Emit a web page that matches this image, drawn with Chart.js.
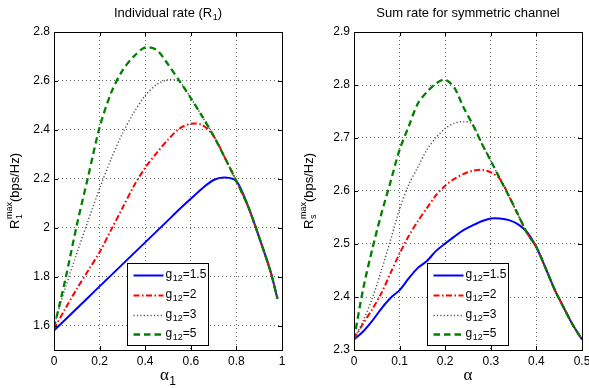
<!DOCTYPE html>
<html>
<head>
<meta charset="utf-8">
<script src="https://cdn.jsdelivr.net/npm/chart.js@4.4.0/dist/chart.umd.min.js"></script>
<style>
    html, body { margin: 0; padding: 0; background: #fff; overflow: hidden; }
    #wrap { position: relative; width: 589px; height: 388px; overflow: hidden; }
    canvas { position: absolute; top: 0; }
</style>
</head>
<body>
<div id="wrap">
    <canvas id="chartLeft" width="295" height="388" style="left:0"></canvas>
    <canvas id="chartRight" width="300" height="388" style="left:295px"></canvas>
</div>
<script>
// Individual rate (R1) vs alpha1
var xLeft = [0, 0.05, 0.1, 0.15, 0.2, 0.25, 0.3, 0.35, 0.4, 0.45, 0.5, 0.55, 0.6, 0.65, 0.7, 0.75, 0.8, 0.85, 0.9, 0.95, 0.98];
var g15Left = [1.58, 1.625, 1.67, 1.715, 1.76, 1.805, 1.85, 1.895, 1.94, 1.985, 2.03, 2.075, 2.118, 2.16, 2.195, 2.205, 2.19, 2.09, 1.96, 1.82, 1.71];
var g2Left = [1.585, 1.67, 1.75, 1.825, 1.90, 1.99, 2.08, 2.17, 2.245, 2.305, 2.36, 2.405, 2.425, 2.42, 2.375, 2.285, 2.19, 2.09, 1.96, 1.82, 1.71];
var g3Left = [1.60, 1.755, 1.895, 2.03, 2.16, 2.28, 2.385, 2.47, 2.54, 2.585, 2.605, 2.597, 2.53, 2.455, 2.375, 2.285, 2.19, 2.09, 1.96, 1.82, 1.71];
var g5Left = [1.59, 1.79, 2.01, 2.21, 2.41, 2.55, 2.642, 2.70, 2.737, 2.727, 2.668, 2.60, 2.53, 2.455, 2.375, 2.285, 2.19, 2.09, 1.96, 1.82, 1.71];

// Sum rate vs alpha
var xRight = [0, 0.02, 0.04, 0.06, 0.08, 0.1, 0.12, 0.14, 0.16, 0.18, 0.2, 0.22, 0.24, 0.26, 0.28, 0.3, 0.32, 0.34, 0.36, 0.38, 0.4, 0.42, 0.44, 0.46, 0.48, 0.5];
var g15Right = [2.32, 2.335, 2.355, 2.378, 2.398, 2.413, 2.435, 2.455, 2.468, 2.487, 2.501, 2.514, 2.526, 2.535, 2.543, 2.548, 2.548, 2.545, 2.537, 2.522, 2.494, 2.455, 2.414, 2.38, 2.347, 2.32];
var g2Right = [2.32, 2.35, 2.377, 2.407, 2.445, 2.482, 2.515, 2.543, 2.568, 2.592, 2.61, 2.623, 2.632, 2.638, 2.64, 2.635, 2.623, 2.59, 2.555, 2.52, 2.494, 2.455, 2.414, 2.38, 2.347, 2.32];
var g3Right = [2.32, 2.355, 2.397, 2.45, 2.507, 2.566, 2.612, 2.645, 2.678, 2.701, 2.718, 2.728, 2.731, 2.726, 2.69, 2.657, 2.623, 2.59, 2.555, 2.52, 2.494, 2.455, 2.414, 2.38, 2.347, 2.32];
var g5Right = [2.32, 2.415, 2.49, 2.557, 2.617, 2.678, 2.722, 2.765, 2.787, 2.803, 2.81, 2.795, 2.758, 2.726, 2.69, 2.657, 2.623, 2.59, 2.555, 2.52, 2.494, 2.455, 2.414, 2.38, 2.347, 2.32];

var gLabels = ['1.5', '2', '3', '5'];
var xTicksLeft = [0, 0.2, 0.4, 0.6, 0.8, 1];
var yTicksLeft = [1.6, 1.8, 2, 2.2, 2.4, 2.6, 2.8];
var xTicksRight = [0, 0.1, 0.2, 0.3, 0.4, 0.5];
var yTicksRight = [2.3, 2.4, 2.5, 2.6, 2.7, 2.8, 2.9];

var SANS = "'Liberation Sans', Arial, Helvetica, sans-serif";
var SERIF = "'Liberation Serif', 'Times New Roman', serif";

vista = {
    estilos: [
        {color: '#0000ff', dash: [], width: 2, order: 3},
        {color: '#ff0000', dash: [6, 2.5, 1.5, 2.5], width: 2, order: 2},
        {color: '#555555', dash: [1.2, 2.2], width: 1.5, order: 1},
        {color: '#008000', dash: [6.5, 4], width: 2.3, order: 0}
    ],
    init: function () {
        Chart.defaults.font.family = SANS;
        Chart.defaults.font.size = 12;
        Chart.defaults.color = '#000';
        vista.createChart('chartLeft', {
            x: xLeft, series: [g15Left, g2Left, g3Left, g5Left],
            xMin: 0, xMax: 1, yMin: 1.5, yMax: 2.8,
            xTicks: xTicksLeft, yTicks: yTicksLeft,
            yWidth: 54, yLabelX: 15,
            title: [{t: 'Individual rate (R'}, {sub: '1'}, {t: ')'}],
            yLabel: [{t: 'R'}, {sub: '1', sup: 'max'}, {t: '(bps/Hz)'}],
            xLabel: [{t: 'α'}, {sub: '1'}]
        });
        vista.createChart('chartRight', {
            x: xRight, series: [g15Right, g2Right, g3Right, g5Right],
            xMin: 0, xMax: 0.5, yMin: 2.3, yMax: 2.9,
            xTicks: xTicksRight, yTicks: yTicksRight,
            yWidth: 59, yLabelX: 14,
            title: [{t: 'Sum rate for symmetric channel'}],
            yLabel: [{t: 'R'}, {sub: 's', sup: 'max'}, {t: '(bps/Hz)'}],
            xLabel: [{t: 'α'}]
        });
    },
    fmt: function (v) {
        return String(Math.round(v * 100) / 100);
    },
    // text with sub/superscripts, centred (or left aligned) on x, middle on y
    drawRich: function (ctx, parts, x, y, size, family, align) {
        var small = Math.round(size * 0.72), w = 0;
        var medidas = parts.map(function (p) {
            var m;
            if (p.t) {
                ctx.font = size + 'px ' + family;
                m = ctx.measureText(p.t).width;
            } else {
                ctx.font = small + 'px ' + SANS;
                m = Math.max(p.sub ? ctx.measureText(p.sub).width : 0, p.sup ? ctx.measureText(p.sup).width : 0) + 0.5;
            }
            w += m;
            return m;
        });
        var cx = align === 'left' ? x : x - w / 2;
        ctx.textAlign = 'left';
        ctx.textBaseline = 'middle';
        ctx.fillStyle = '#000';
        parts.forEach(function (p, i) {
            if (p.t) {
                ctx.font = size + 'px ' + family;
                ctx.fillText(p.t, cx, y);
            } else {
                ctx.font = small + 'px ' + SANS;
                if (p.sub) ctx.fillText(p.sub, cx + 0.5, y + size * 0.32);
                if (p.sup) ctx.fillText(p.sup, cx + 0.5, y - size * 0.42);
            }
            cx += medidas[i];
        });
    },
    getPlugin: function (cfg) {
        return {
            id: 'marco',
            afterDraw: function (chart) {
                var ctx = chart.ctx, a = chart.chartArea;
                var xs = chart.scales.x, ys = chart.scales.y;
                ctx.save();
                ctx.setLineDash([]);
                ctx.strokeStyle = '#000';
                ctx.lineWidth = 1;
                ctx.beginPath();
                cfg.xTicks.forEach(function (v) {
                    var px = Math.round(xs.getPixelForValue(v)) + 0.5;
                    ctx.moveTo(px, a.bottom); ctx.lineTo(px, a.bottom - 4);
                    ctx.moveTo(px, a.top); ctx.lineTo(px, a.top + 4);
                });
                cfg.yTicks.forEach(function (v) {
                    var py = Math.round(ys.getPixelForValue(v)) + 0.5;
                    ctx.moveTo(a.left, py); ctx.lineTo(a.left + 4, py);
                    ctx.moveTo(a.right, py); ctx.lineTo(a.right - 4, py);
                });
                ctx.stroke();
                ctx.strokeRect(Math.round(a.left) + 0.5, Math.round(a.top) + 0.5, Math.round(a.right - a.left), Math.round(a.bottom - a.top));

                // legend box
                var lx = Math.round(a.left) + 73.5, ly = 263.5, lw = 81, lh = 82;
                ctx.fillStyle = '#fff';
                ctx.fillRect(lx, ly, lw, lh);
                ctx.strokeRect(lx, ly, lw, lh);
                var filas = [12, 32, 52, 71];
                chart.data.datasets.forEach(function (ds, i) {
                    var yy = ly + filas[i];
                    ctx.save();
                    ctx.strokeStyle = ds.borderColor;
                    ctx.lineWidth = ds.borderWidth;
                    ctx.setLineDash(ds.borderDash);
                    ctx.beginPath();
                    ctx.moveTo(lx + 6, yy);
                    ctx.lineTo(lx + 36, yy);
                    ctx.stroke();
                    ctx.restore();
                    vista.drawRich(ctx, [{t: 'g'}, {sub: '12'}, {t: '=' + gLabels[i]}], lx + 38, yy - 1, 12, SANS, 'left');
                });

                // title and axis labels
                var mid = (a.left + a.right) / 2;
                vista.drawRich(ctx, cfg.title, mid, 13, 13, SANS);
                vista.drawRich(ctx, cfg.xLabel, mid, 376, 17, SERIF);
                ctx.translate(cfg.yLabelX, (a.top + a.bottom) / 2);
                ctx.rotate(-Math.PI / 2);
                vista.drawRich(ctx, cfg.yLabel, 0, 0, 13, SANS);
                ctx.restore();
            }
        };
    },
    createChart: function (idChart, cfg) {
        var datasets = cfg.series.map(function (serie, i) {
            var e = vista.estilos[i];
            return {
                label: 'g12=' + gLabels[i],
                data: serie.map(function (v, j) { return {x: cfg.x[j], y: v}; }),
                borderColor: e.color,
                borderDash: e.dash,
                borderWidth: e.width,
                order: e.order,
                fill: false,
                pointRadius: 0,
                tension: 0.3
            };
        });
        var gridOpts = {color: 'rgba(0,0,0,0.6)', lineWidth: 1, drawTicks: false};
        var ctx = document.getElementById(idChart).getContext('2d');
        new Chart(ctx, {
            type: 'line',
            data: {datasets: datasets},
            options: {
                responsive: false,
                animation: false,
                devicePixelRatio: 1,
                layout: {padding: {left: 0, right: 13, top: 32, bottom: 0}},
                plugins: {legend: {display: false}, tooltip: {enabled: false}, title: {display: false}},
                scales: {
                    x: {
                        type: 'linear', min: cfg.xMin, max: cfg.xMax,
                        afterBuildTicks: function (s) { s.ticks = cfg.xTicks.map(function (v) { return {value: v}; }); },
                        afterFit: function (s) { s.height = 38; },
                        grid: gridOpts,
                        border: {display: false, dash: [1, 3]},
                        ticks: {padding: 4, autoSkip: false, maxRotation: 0, callback: vista.fmt}
                    },
                    y: {
                        type: 'linear', min: cfg.yMin, max: cfg.yMax,
                        afterBuildTicks: function (s) { s.ticks = cfg.yTicks.map(function (v) { return {value: v}; }); },
                        afterFit: function (s) { s.width = cfg.yWidth; },
                        grid: gridOpts,
                        border: {display: false, dash: [1, 3]},
                        ticks: {padding: 4, autoSkip: false, callback: vista.fmt}
                    }
                }
            },
            plugins: [vista.getPlugin(cfg)]
        });
    }
};
vista.init();
</script>
</body>
</html>
